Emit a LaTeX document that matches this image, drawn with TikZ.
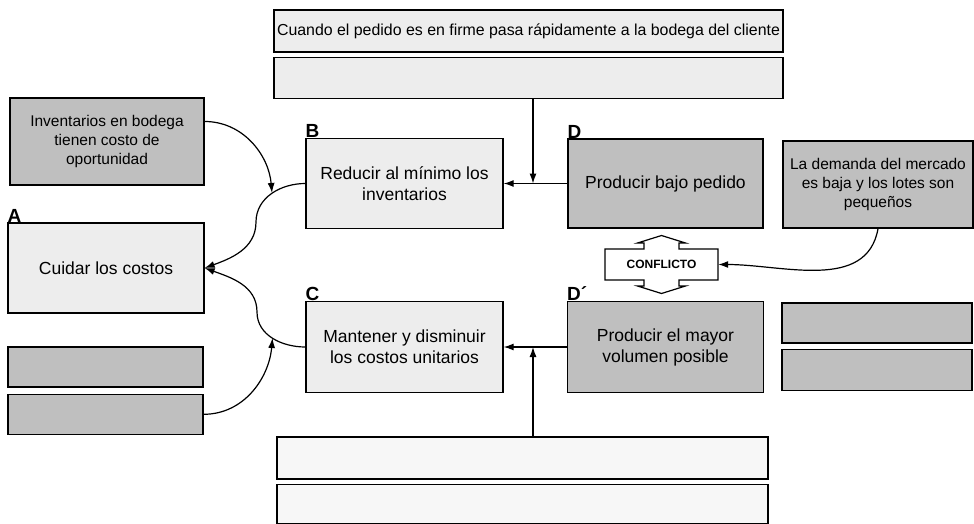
\documentclass[tikz,border=0pt]{standalone}
\usepackage{fontspec}
\setmainfont{Liberation Sans}
\usetikzlibrary{positioning,arrows.meta}

\tikzset{
  box/.style={draw, line width=1.3pt, align=center, inner sep=2pt, font=\fontsize{17.5}{21}\selectfont},
  light/.style={box, fill=black!7},
  blank/.style={box, fill=black!3},
  dark/.style={box, fill=black!25},
  small/.style={font=\fontsize{15.5}{19}\selectfont},
  lbl/.style={inner sep=0pt, font=\fontsize{19}{19}\selectfont\bfseries},
  arr/.style={line width=1.2pt, -{Latex[length=10pt,width=7pt]}},
}

\begin{document}
\begin{tikzpicture}[x=1pt,y=1pt]
\useasboundingbox (0,0) rectangle (974,-524);

\node[light, minimum width=509pt, minimum height=42pt, inner sep=1pt, font=\fontsize{15.9}{19}\selectfont] (top1) at (528.5,-31) {Cuando el pedido es en firme pasa rápidamente a la bodega del cliente};
\node[light, minimum width=509pt, minimum height=41pt, below=4pt of top1] (top2) {};

\node[dark, small, minimum width=194pt, minimum height=87pt] (inv) at (107,-141.5) {Inventarios en bodega\\tienen costo de\\oportunidad};
\node[light, minimum width=196pt, minimum height=90pt] (a) at (106,-268) {Cuidar los costos};
\node[dark, minimum width=195pt, minimum height=40pt] (l1) at (105.5,-367) {};
\node[dark, minimum width=195pt, minimum height=40pt, below=6pt of l1] (l2) {};

\node[light, minimum width=197pt, minimum height=90pt] (b) at (404.5,-183.5) {Reducir al mínimo los\\inventarios};
\node[light, minimum width=197pt, minimum height=91pt] (c) at (404.5,-347) {Mantener y disminuir\\los costos unitarios};
\node[blank, minimum width=491pt, minimum height=42pt] (bot1) at (522.5,-458) {};
\node[blank, minimum width=491pt, minimum height=39pt, below=4pt of bot1] (bot2) {};

\node[dark, minimum width=195pt, minimum height=89pt] (d) at (665.5,-183.5) {Producir bajo pedido};
\node[dark, minimum width=196pt, minimum height=91pt] (dp) at (665.5,-347) {Producir el mayor\\volumen posible};
\node[minimum width=113pt, minimum height=31pt, font=\fontsize{12}{12}\selectfont\bfseries] (conf) at (661.5,-264.5) {CONFLICTO};

\node[dark, small, minimum width=190pt, minimum height=87pt] (dem) at (878,-184.5) {La demanda del mercado\\es baja y los lotes son\\pequeños};
\node[dark, minimum width=190pt, minimum height=40pt] (r1) at (877,-323) {};
\node[dark, minimum width=190pt, minimum height=41pt, below=5pt of r1] (r2) {};

\node[lbl, above right=0pt of a.north west] (la) {A};
\node[lbl, above right=0pt of b.north west] (lb) {B};
\node[lbl, above right=0pt of c.north west] (lc) {C};
\node[lbl, above right=0pt of d.north west] (ld) {D};
\node[lbl, above right=0pt of dp.north west] (ldp) {D´};

\draw[line width=1.2pt, shift={(conf.center)}] (-56.5,15.5) -- (-17.5,15.5) -- (-17.5,21.5) -- (-24,21.5) -- (0,29)
  -- (24,21.5) -- (17.5,21.5) -- (17.5,15.5) -- (56.5,15.5) -- (56.5,-15.5) -- (17.5,-15.5) -- (17.5,-21.5)
  -- (24,-21.5) -- (0,-29) -- (-24,-21.5) -- (-17.5,-21.5) -- (-17.5,-15.5) -- (-56.5,-15.5) -- cycle;

\coordinate (jt) at (533,-183.5);
\coordinate (jb) at (533,-347);
\coordinate (kb) at (256,-222);
\coordinate (kc) at (257,-312);
\coordinate (ti) at (272,-193);
\coordinate (tc) at (272.5,-338);

\draw[arr] (d.west) -- (b.east);
\draw[arr] (jt |- top2.south) -- (jt);
\draw[arr] (dp.west) -- (c.east);
\draw[arr] (jb |- bot1.north) -- (jb);
\draw[arr] (b.west) to[out=180,in=90] (kb) to[out=-90,in=20] (a.east);
\draw[arr] (c.west) to[out=180,in=-90] (kc) to[out=90,in=-20] (a.east);
\draw[arr] ([yshift=20pt]inv.east) to[out=0,in=95] (ti);
\draw[arr] (l2.east) to[out=0,in=-95] (tc);
\draw[arr] (dem.south) to[out=-100,in=0] (conf.east);
\end{tikzpicture}
\end{document}
